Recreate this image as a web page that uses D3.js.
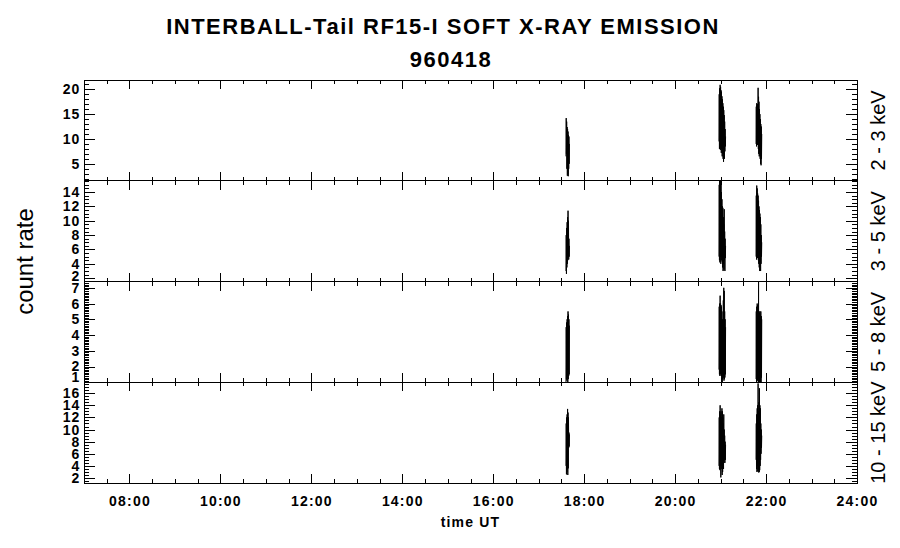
<!DOCTYPE html>
<html><head><meta charset="utf-8">
<script src="https://cdn.jsdelivr.net/npm/d3@7"></script>
<style>body{margin:0;background:#fff} svg{display:block}</style>
</head><body><svg id="chart" width="900" height="548"></svg>
<script>
const titleLines = ["INTERBALL-Tail RF15-I SOFT X-RAY EMISSION", "960418"];
const yAxisTitle = "count rate";
const xAxisTitle = "time UT";
const bandLabels = ["2 - 3 keV", "3 - 5 keV", "5 - 8 keV", "10 - 15 keV"];
const yDomains = [[1.59, 21.87], [1.54, 15.57], [1.0, 7.4], [1.18, 17.8]];
const yMajorTicks = [[5, 10, 15, 20], [2, 4, 6, 8, 10, 12, 14], [1, 2, 3, 4, 5, 6, 7], [2, 4, 6, 8, 10, 12, 14, 16]];
const yMinorSteps = [1, 0.5, 0.1, 0.5];
const xTickHours = [8, 10, 12, 14, 16, 18, 20, 22, 24];
const timeDomain = [7, 24];

// sample times (decimal hours UT) for the three bursts
const burst1Times = [17.600, 17.605, 17.610, 17.615, 17.620, 17.625, 17.630, 17.635, 17.640, 17.645, 17.650, 17.655, 17.660, 17.665, 17.670, 17.675];
const burst2Times = [20.965, 20.970, 20.975, 20.980, 20.985, 20.990, 20.995, 21.000, 21.005, 21.010, 21.015, 21.020, 21.025, 21.030, 21.035, 21.040, 21.045, 21.050, 21.055, 21.060, 21.065, 21.070, 21.075, 21.080, 21.085, 21.090, 21.095, 21.100, 21.105, 21.110];
const burst3Times = [21.780, 21.785, 21.790, 21.795, 21.800, 21.805, 21.810, 21.815, 21.820, 21.825, 21.830, 21.835, 21.840, 21.845, 21.850, 21.855, 21.860, 21.865, 21.870, 21.875, 21.880, 21.885, 21.890, 21.895, 21.900, 21.905];

// 2 - 3 keV
const band23Burst1 = [6.5, 14.2, 7.0, 13.5, 4.0, 12.4, 2.6, 12.0, 3.0, 11.5, 2.5, 10.8, 4.0, 10.5, 5.0, 9.0];
const band23Burst2 = [9.5, 19.0, 8.0, 20.2, 8.5, 20.9, 7.8, 20.5, 9.0, 19.8, 7.2, 19.5, 8.0, 18.6, 6.5, 18.0, 7.0, 17.2, 6.0, 16.5, 5.4, 15.8, 7.0, 14.8, 6.0, 13.5, 7.5, 12.0, 8.5, 10.5];
const band23Burst3 = [9.0, 16.5, 8.5, 17.2, 9.5, 16.8, 8.8, 17.0, 10.0, 20.3, 8.0, 18.5, 7.0, 17.5, 6.5, 16.0, 7.5, 15.0, 6.0, 14.0, 5.0, 13.0, 4.7, 12.5, 6.0, 11.0];
// 3 - 5 keV
const band35Burst1 = [3.0, 8.0, 2.6, 9.0, 3.5, 9.8, 4.0, 10.5, 4.5, 11.4, 5.0, 10.0, 4.6, 7.5, 5.0, 6.5];
const band35Burst2 = [5.0, 15.0, 4.5, 16.0, 4.2, 16.0, 5.0, 15.8, 4.0, 15.2, 4.5, 14.0, 5.0, 13.0, 4.3, 12.0, 3.5, 11.8, 3.0, 10.5, 4.0, 9.5, 3.2, 11.6, 4.5, 8.5, 3.0, 7.5, 4.8, 6.5];
const band35Burst3 = [5.0, 13.5, 4.6, 14.9, 5.2, 14.5, 4.8, 13.8, 5.5, 13.5, 4.5, 12.8, 4.0, 12.0, 3.5, 11.5, 3.0, 11.0, 3.6, 10.5, 3.0, 9.5, 4.0, 8.0, 5.0, 7.0];
// 5 - 8 keV
const band58Burst1 = [0.9, 4.5, 1.2, 4.8, 1.1, 5.0, 1.3, 5.2, 0.8, 5.5, 1.2, 5.3, 1.4, 5.0, 1.5, 4.6];
const band58Burst2 = [1.8, 5.8, 1.5, 6.0, 1.4, 6.5, 1.6, 6.0, 1.5, 5.9, 1.4, 5.8, 1.0, 5.5, 0.9, 5.0, 1.2, 4.8, 1.5, 6.2, 1.3, 7.0, 1.1, 6.8, 1.2, 5.5, 1.3, 5.0, 1.5, 4.5];
const band58Burst3 = [1.2, 5.5, 1.0, 5.8, 1.3, 6.0, 1.1, 5.9, 1.2, 5.6, 1.0, 7.6, 0.9, 5.5, 1.1, 5.4, 1.0, 5.5, 1.2, 5.3, 0.9, 5.5, 1.0, 5.2, 1.3, 5.0];
// 10 - 15 keV
const band1015Burst1 = [4.0, 11.0, 2.6, 12.0, 3.0, 12.5, 3.5, 13.4, 2.5, 12.8, 3.6, 12.0, 7.0, 9.5, 7.2, 9.2];
const band1015Burst2 = [4.0, 12.0, 3.5, 13.0, 3.3, 14.0, 4.0, 12.5, 2.1, 13.0, 3.5, 12.0, 4.0, 13.5, 2.5, 13.0, 3.0, 12.0, 4.0, 11.0, 3.5, 12.5, 4.5, 10.0, 5.0, 9.0, 4.5, 8.0, 5.0, 7.5];
const band1015Burst3 = [5.0, 11.0, 3.5, 12.5, 3.0, 13.5, 4.0, 14.0, 3.1, 17.6, 3.5, 13.0, 2.9, 14.5, 3.0, 16.8, 3.3, 14.0, 4.0, 13.5, 5.0, 11.0, 6.0, 10.0, 7.0, 9.0];

const burstTimes = [burst1Times, burst2Times, burst3Times];
const bandValues = [
  [band23Burst1, band23Burst2, band23Burst3],
  [band35Burst1, band35Burst2, band35Burst3],
  [band58Burst1, band58Burst2, band58Burst3],
  [band1015Burst1, band1015Burst2, band1015Burst3]
];

// ---------- layout ----------
const L = 84, R = 857, T = 80, B = 483;
const ph = (B - T) / 4;
const FONT = "'Liberation Sans', Arial, Helvetica, sans-serif";
const svg = d3.select("#chart");
svg.append("rect").attr("width", 900).attr("height", 548).attr("fill", "#fff");

const x = d3.scaleLinear().domain(timeDomain).range([L, R]);
const xMinor = d3.range(timeDomain[0], timeDomain[1] + 0.001, 0.5).filter(h => !xTickHours.includes(h));

function clean(g) { g.select(".domain").remove(); g.selectAll("line").attr("stroke", "#000").attr("shape-rendering", "crispEdges"); }

bandValues.forEach((bursts, i) => {
  const y0 = T + i * ph, y1 = y0 + ph;
  const y = d3.scaleLinear().domain(yDomains[i]).range([y1, y0]);
  const g = svg.append("g");

  g.append("clipPath").attr("id", "clip" + i).append("rect")
    .attr("x", L).attr("y", y0).attr("width", R - L).attr("height", ph);

  // data
  const line = d3.line().x(d => x(d[0])).y(d => y(d[1]));
  const dg = g.append("g").attr("clip-path", `url(#clip${i})`);
  bursts.forEach((vals, j) => {
    const pts = burstTimes[j].map((t, k) => [t, vals[k]]);
    dg.append("path").attr("d", line(pts)).attr("fill", "none")
      .attr("stroke", "#000").attr("stroke-width", 1);
  });

  // x ticks top & bottom
  g.append("g").attr("transform", `translate(0,${y0})`)
    .call(d3.axisTop(x).tickValues(xTickHours).tickSize(-9).tickFormat("")).call(clean);
  g.append("g").attr("transform", `translate(0,${y0})`)
    .call(d3.axisTop(x).tickValues(xMinor).tickSize(-4).tickFormat("")).call(clean);
  const isLast = i === bandValues.length - 1;
  const bx = g.append("g").attr("transform", `translate(0,${y1})`)
    .call(d3.axisBottom(x).tickValues(xTickHours).tickSize(-9).tickPadding(13)
      .tickFormat(isLast ? (h => String(h).padStart(2, "0") + ":00") : ""));
  bx.call(clean);
  bx.selectAll("text").attr("font-family", FONT).attr("font-size", 14).attr("font-weight", "bold")
    .attr("letter-spacing", "1.2px").attr("fill", "#000");
  g.append("g").attr("transform", `translate(0,${y1})`)
    .call(d3.axisBottom(x).tickValues(xMinor).tickSize(-4).tickFormat("")).call(clean);

  // y ticks
  const [lo, hi] = yDomains[i];
  const step = yMinorSteps[i];
  const minor = d3.range(Math.ceil(lo / step) * step, hi, step)
    .map(v => +v.toFixed(3)).filter(v => !yMajorTicks[i].some(m => Math.abs(m - v) < 1e-6));
  const ly = g.append("g").attr("transform", `translate(${L},0)`)
    .call(d3.axisLeft(y).tickValues(yMajorTicks[i]).tickSize(-11).tickPadding(4).tickFormat(d => String(d)));
  ly.call(clean);
  ly.selectAll(".tick").each(function (v) {
    const pos = y(v);
    const clamped = Math.min(pos, y1 - 5);
    d3.select(this).select("text").attr("y", clamped - pos);
  });
  ly.selectAll("text").attr("font-family", FONT).attr("font-size", 14).attr("font-weight", "bold")
    .attr("letter-spacing", "0.8px").attr("fill", "#000");
  g.append("g").attr("transform", `translate(${L},0)`)
    .call(d3.axisLeft(y).tickValues(minor).tickSize(-5).tickFormat("")).call(clean);
  g.append("g").attr("transform", `translate(${R},0)`)
    .call(d3.axisRight(y).tickValues(yMajorTicks[i]).tickSize(-11).tickFormat("")).call(clean);
  g.append("g").attr("transform", `translate(${R},0)`)
    .call(d3.axisRight(y).tickValues(minor).tickSize(-5).tickFormat("")).call(clean);

  // frame
  g.append("rect").attr("x", L).attr("y", y0).attr("width", R - L).attr("height", ph)
    .attr("fill", "none").attr("stroke", "#000").attr("stroke-width", 1).attr("shape-rendering", "crispEdges");

  // band label on the right
  g.append("text").attr("transform", `translate(885,${(y0 + y1) / 2}) rotate(-90)`)
    .attr("text-anchor", "middle").attr("font-family", FONT).attr("font-size", 20)
    .attr("fill", "#000").text(bandLabels[i]);
});

// titles
svg.append("text").attr("x", 443).attr("y", 34).attr("text-anchor", "middle")
  .attr("font-family", FONT).attr("font-size", 22).attr("font-weight", "bold")
  .attr("letter-spacing", "1.5px").text(titleLines[0]);
svg.append("text").attr("x", 451).attr("y", 67).attr("text-anchor", "middle")
  .attr("font-family", FONT).attr("font-size", 22).attr("font-weight", "bold")
  .attr("letter-spacing", "1.5px").text(titleLines[1]);
svg.append("text").attr("transform", `translate(33,${(T + B) / 2 - 20}) rotate(-90)`)
  .attr("text-anchor", "middle").attr("font-family", FONT).attr("font-size", 24)
  .text(yAxisTitle);
svg.append("text").attr("x", (L + R) / 2).attr("y", 527).attr("text-anchor", "middle")
  .attr("font-family", FONT).attr("font-size", 14).attr("font-weight", "bold")
  .attr("letter-spacing", "1.2px").text(xAxisTitle);
</script></body></html>
